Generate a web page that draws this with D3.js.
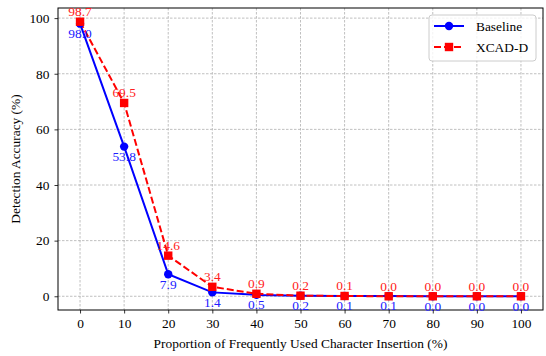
<!DOCTYPE html>
<html><head><meta charset="utf-8">
<script src="https://cdn.jsdelivr.net/npm/d3@7"></script>
<style>body{margin:0;background:#fff}svg{display:block}text{font-family:"Liberation Serif","Times New Roman",serif}</style>
</head><body>
<svg id="c" width="546" height="356"></svg>
<script>
const proportions = [0,10,20,30,40,50,60,70,80,90,100];
const baseline = [98.0,53.8,7.9,1.4,0.5,0.2,0.1,0.1,0.0,0.0,0.0];
const xcad = [98.7,69.5,14.6,3.4,0.9,0.2,0.1,0.0,0.0,0.0,0.0];
const yTicks = [0,20,40,60,80,100];
const seriesNames = ["Baseline","XCAD-D"];

const FS = 13.4;
const svg = d3.select("#c");
const L=58, R=543, T=8, B=310;
const x = d3.scaleLinear().domain([-5,105]).range([L,R]);
const y = d3.scaleLinear().domain([-4.935,103.635]).range([B,T]);
const g = svg.append("g");

// grid
g.selectAll(".gx").data(proportions).enter().append("line")
 .attr("x1",d=>x(d)).attr("x2",d=>x(d)).attr("y1",T).attr("y2",B)
 .attr("stroke","#b0b0b0").attr("stroke-width",0.8).attr("stroke-dasharray","2.5,1.5");
g.selectAll(".gy").data(yTicks).enter().append("line")
 .attr("y1",d=>y(d)).attr("y2",d=>y(d)).attr("x1",L).attr("x2",R)
 .attr("stroke","#b0b0b0").attr("stroke-width",0.8).attr("stroke-dasharray","2.5,1.5");

// axes
const xa = svg.append("g").attr("transform",`translate(0,${B})`)
 .call(d3.axisBottom(x).tickValues(proportions).tickSize(3.5).tickPadding(5));
const ya = svg.append("g").attr("transform",`translate(${L},0)`)
 .call(d3.axisLeft(y).tickValues(yTicks).tickSize(3.5).tickPadding(5));
[xa,ya].forEach(a=>{a.select(".domain").remove();
 a.attr("font-size",FS).attr("font-family","Liberation Serif");
 a.selectAll("text").attr("fill","#000");
 a.selectAll("line").attr("stroke","#000").attr("stroke-width",0.8);});

svg.append("rect").attr("x",L).attr("y",T).attr("width",R-L).attr("height",B-T)
 .attr("fill","none").attr("stroke","#000").attr("stroke-width",1);

const line = d3.line().x((d,i)=>x(proportions[i])).y(d=>y(d));
svg.append("path").datum(baseline).attr("d",line).attr("fill","none").attr("stroke","blue").attr("stroke-width",2);
svg.append("path").datum(xcad).attr("d",line).attr("fill","none").attr("stroke","red").attr("stroke-width",2).attr("stroke-dasharray","7,3");

svg.selectAll(".bm").data(baseline).enter().append("circle")
 .attr("cx",(d,i)=>x(proportions[i])).attr("cy",d=>y(d)).attr("r",4.2).attr("fill","blue");
svg.selectAll(".xm").data(xcad).enter().append("rect")
 .attr("x",(d,i)=>x(proportions[i])-4.2).attr("y",d=>y(d)-4.2).attr("width",8.4).attr("height",8.4).attr("fill","red");

// labels
svg.selectAll(".xl").data(xcad).enter().append("text")
 .attr("x",(d,i)=>x(proportions[i])).attr("y",d=>y(d)-5.5).attr("text-anchor","middle")
 .attr("font-size",FS).attr("fill","#ff2020").text(d=>d.toFixed(1));
svg.selectAll(".bl").data(baseline).enter().append("text")
 .attr("x",(d,i)=>x(proportions[i])).attr("y",d=>y(d)+14.5).attr("text-anchor","middle")
 .attr("font-size",FS).attr("fill","#2020ff").text(d=>d.toFixed(1));

// axis titles
svg.append("text").attr("x",(L+R)/2).attr("y",347.5).attr("text-anchor","middle").attr("font-size",FS)
 .text("Proportion of Frequently Used Character Insertion (%)");
svg.append("text").attr("transform",`translate(19.5,${(T+B)/2}) rotate(-90)`).attr("text-anchor","middle").attr("font-size",FS)
 .text("Detection Accuracy (%)");

// legend
const lg = svg.append("g");
lg.append("rect").attr("x",429).attr("y",15).attr("width",107).attr("height",46).attr("rx",3)
 .attr("fill","white").attr("fill-opacity",0.8).attr("stroke","#cccccc").attr("stroke-width",1);
[0,1].forEach(i=>{
 const yy = 26 + i*21;
 lg.append("line").attr("x1",434).attr("x2",464).attr("y1",yy).attr("y2",yy)
  .attr("stroke",i?"red":"blue").attr("stroke-width",2).attr("stroke-dasharray",i?"7,3":null);
 if(i) lg.append("rect").attr("x",449-4.2).attr("y",yy-4.2).attr("width",8.4).attr("height",8.4).attr("fill","red");
 else lg.append("circle").attr("cx",449).attr("cy",yy).attr("r",4.2).attr("fill","blue");
 lg.append("text").attr("x",476).attr("y",yy+4.5).attr("font-size",FS).text(seriesNames[i]);
});
</script>
</body></html>
